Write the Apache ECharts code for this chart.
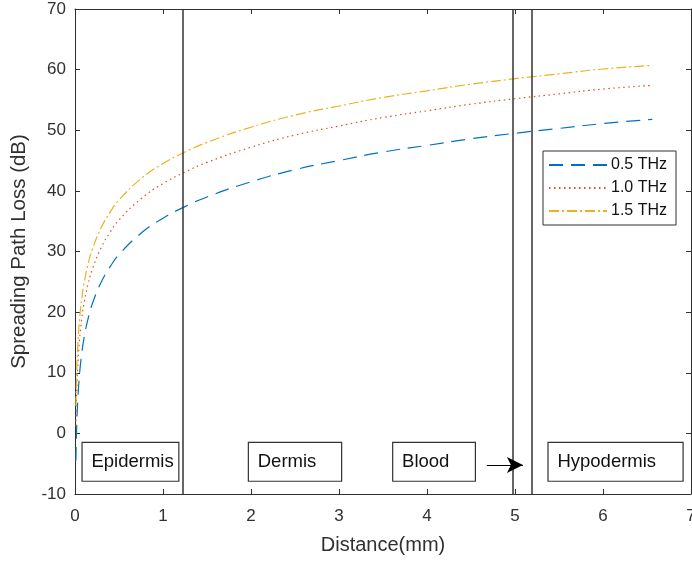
<!DOCTYPE html>
<html>
<head>
<meta charset="utf-8">
<script src="https://cdn.jsdelivr.net/npm/echarts@6/dist/echarts.min.js"></script>
<style>
  html, body { margin: 0; padding: 0; background: #fff; }
  #chart { width: 692px; height: 563px; }
</style>
</head>
<body>
<div id="chart"></div>
<script>
// distance in mm, loss in dB
const distance = [0.01, 0.02, 0.03, 0.05, 0.075, 0.1, 0.15, 0.2, 0.3, 0.4, 0.5, 0.75, 1, 1.25, 1.5, 2, 2.5, 3, 3.5, 4, 4.5, 5, 5.5, 6, 6.56];
const loss05 = [-4.5, 1.5, 5.0, 9.5, 13.0, 15.5, 19.0, 21.5, 25.0, 27.5, 29.5, 33.0, 35.5, 37.4, 39.0, 41.5, 43.5, 45.0, 46.4, 47.5, 48.6, 49.5, 50.3, 51.1, 51.8];
const loss10 = [1.2, 7.2, 10.7, 15.2, 18.7, 21.2, 24.7, 27.2, 30.7, 33.2, 35.2, 38.7, 41.2, 43.1, 44.7, 47.2, 49.2, 50.7, 52.1, 53.2, 54.3, 55.2, 56.0, 56.8, 57.4];
const loss15 = [4.5, 10.5, 14.0, 18.5, 22.0, 24.5, 28.0, 30.5, 34.0, 36.5, 38.5, 42.0, 44.5, 46.4, 48.0, 50.5, 52.5, 54.0, 55.4, 56.5, 57.6, 58.5, 59.3, 60.1, 60.7];
const seriesNames = ['0.5 THz', '1.0 THz', '1.5 THz'];

// tissue layer boundaries (mm)
const boundaries = [1.22, 4.98, 5.19];
// text boxes of the layers, in data units
const layerBoxes = [
  { name: 'Epidermis', x0: 0.08, x1: 1.18 },
  { name: 'Dermis', x0: 1.97, x1: 3.03 },
  { name: 'Blood', x0: 3.61, x1: 4.55 },
  { name: 'Hypodermis', x0: 5.375, x1: 6.91 }
];
const boxTop = -1.5;
const boxBottom = -7.9;
const arrowFrom = [4.68, -5.2];
const arrowTo = [5.09, -5.2];

const chart = echarts.init(document.getElementById('chart'));
const font = '"Liberation Sans", Arial, sans-serif';
const axisColor = '#303030';

const pairs = arr => distance.map((d, i) => [d, arr[i]]);

function curve(name, data, color, dash) {
  return {
    name: name,
    type: 'line',
    data: pairs(data),
    symbol: 'none',
    smooth: true,
    lineStyle: { color: color, width: 1.2, type: dash },
    itemStyle: { color: color },
    z: 3
  };
}

const baseX = {
  type: 'value', min: 0, max: 7, interval: 1,
  axisLine: { show: true, onZero: false, lineStyle: { color: axisColor, width: 1 } },
  axisTick: { show: true, inside: true, length: 5, lineStyle: { color: axisColor } },
  splitLine: { show: false }
};
const baseY = {
  type: 'value', min: -10, max: 70, interval: 10,
  axisLine: { show: true, onZero: false, lineStyle: { color: axisColor, width: 1 } },
  axisTick: { show: true, inside: true, length: 5, lineStyle: { color: axisColor } },
  splitLine: { show: false }
};

const option = {
  backgroundColor: '#fff',
  animation: false,
  textStyle: { fontFamily: font },
  grid: { left: 75, right: 1, top: 9, bottom: 69, outerBoundsMode: 'none', containLabel: false },
  legend: {
    data: seriesNames,
    orient: 'vertical',
    left: 543,
    top: 151,
    itemWidth: 58,
    itemHeight: 1,
    itemGap: 7,
    padding: [6, 9, 6, 5],
    backgroundColor: '#fff',
    borderColor: '#333',
    borderWidth: 1,
    textStyle: { fontFamily: font, fontSize: 16, color: '#111', padding: [0, 0, 0, -1] }
  },
  xAxis: [
    Object.assign({}, baseX, {
      position: 'bottom',
      name: 'Distance(mm)',
      nameLocation: 'middle',
      nameGap: 41,
      nameTextStyle: { fontFamily: font, fontSize: 20, color: axisColor },
      axisLabel: { fontFamily: font, fontSize: 17, color: axisColor, margin: 14 }
    }),
    Object.assign({}, baseX, { position: 'top', axisLabel: { show: false } })
  ],
  yAxis: [
    Object.assign({}, baseY, {
      position: 'left',
      name: 'Spreading Path Loss (dB)',
      nameLocation: 'middle',
      nameGap: 45,
      nameTextStyle: { fontFamily: font, fontSize: 20.5, color: axisColor },
      axisLabel: { fontFamily: font, fontSize: 17, color: axisColor, margin: 9 }
    }),
    Object.assign({}, baseY, { position: 'right', axisLabel: { show: false } })
  ],
  series: [
    curve(seriesNames[0], loss05, '#0072BD', [14, 8]),
    curve(seriesNames[1], loss10, '#D95319', [1.5, 3.5]),
    curve(seriesNames[2], loss15, '#EDB120', [10, 3, 2, 3]),
    {
      name: 'annotations',
      type: 'line',
      data: [],
      z: 4,
      markLine: {
        silent: true,
        symbol: 'none',
        label: { show: false },
        lineStyle: { color: '#333', width: 1.5, type: 'solid' },
        data: boundaries.map(b => ({ xAxis: b })).concat([[
          { coord: arrowFrom, symbol: 'none' },
          { coord: arrowTo, symbol: 'arrow', symbolSize: [12, 16], lineStyle: { color: '#000', width: 1.2 } }
        ]])
      },
      markArea: {
        silent: true,
        itemStyle: { color: '#fff', borderColor: '#333', borderWidth: 1.2 },
        label: {
          show: true,
          position: 'insideLeft',
          distance: 10,
          fontFamily: font,
          fontSize: 18.5,
          color: '#111'
        },
        data: layerBoxes.map(b => [
          { name: b.name, coord: [b.x0, boxTop] },
          { coord: [b.x1, boxBottom] }
        ])
      }
    }
  ]
};

chart.setOption(option);
</script>
</body>
</html>
